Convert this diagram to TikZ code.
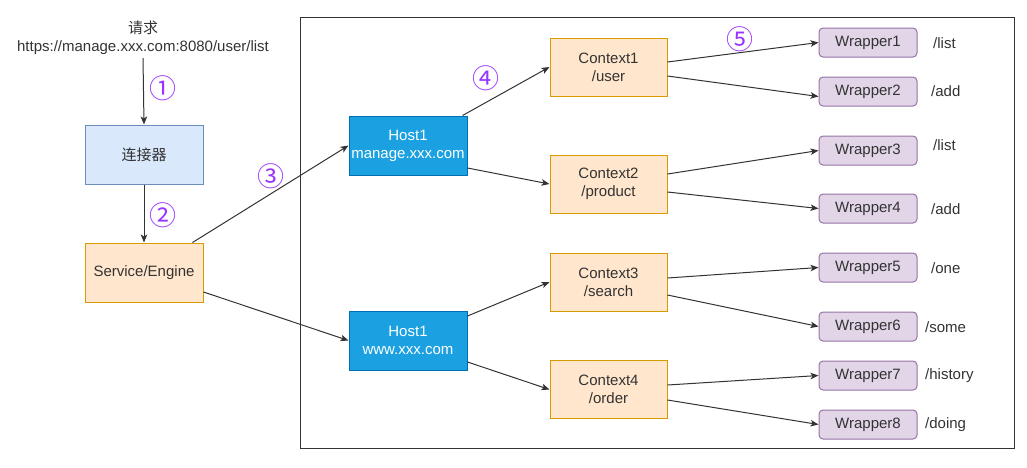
\documentclass[tikz,border=0pt]{standalone}
\usepackage{fontspec}
\setmainfont{Liberation Sans}
\newfontfamily\cjkfont{Noto Sans CJK SC}
\usepackage{xcolor}
\usepackage{tikz}
\usetikzlibrary{arrows.meta, positioning}

\definecolor{txtgray}{HTML}{333333}
\definecolor{stepviolet}{HTML}{9933FF}
\definecolor{connfill}{HTML}{DAE8FC}
\definecolor{conndraw}{HTML}{6C8EBF}
\definecolor{orfill}{HTML}{FFE6CC}
\definecolor{ordraw}{HTML}{D79B00}
\definecolor{hostfill}{HTML}{1BA1E2}
\definecolor{hostdraw}{HTML}{006EAF}
\definecolor{wrapfill}{HTML}{E1D5E7}
\definecolor{wrapdraw}{HTML}{9673A6}

\newcommand{\boxfont}{\fontsize{15}{18}\selectfont}

\tikzset{
  %% Plain flat box
  fbox/.style 2 args={
    rectangle, draw=#1, fill=#2,
    text centered, align=center, font=\boxfont, text=txtgray,
    minimum width=118pt, minimum height=59pt,
    inner sep=2pt, line width=1pt
  },
  %% Host box
  hbox/.style={
    fbox={hostdraw}{hostfill}, text=white
  },
  %% Wrapper box
  wbox/.style={
    rectangle, rounded corners=4pt,
    draw=wrapdraw, fill=wrapfill,
    text centered, font=\boxfont, text=txtgray,
    minimum width=98pt, minimum height=29pt,
    inner sep=2pt, line width=1pt
  },
  %% Circled step number
  stepnum/.style={
    font=\cjkfont\fontsize{27}{27}\selectfont, text=stepviolet,
    inner sep=0pt
  },
  %% Path label beside a wrapper
  plabel/.style={font=\boxfont, text=txtgray, anchor=west, inner sep=0pt},
  %% Arrow
  arr/.style={-{Stealth[length=8pt,width=6.5pt,inset=2pt]},
              draw=txtgray, line width=1pt},
}

\begin{document}
\begin{tikzpicture}[x=1pt, y=-1pt]
  \useasboundingbox (0,0) rectangle (1027,467);

  %% Request and the left column
  \node[align=center, font=\boxfont, text=txtgray, inner sep=1pt]
       (req) at (143,38) {{\cjkfont 请求}\\https://manage.xxx.com:8080/user/list};
  \node[fbox={conndraw}{connfill}] (conn) at (144,154.5) {\cjkfont 连接器};
  \node[fbox={ordraw}{orfill}] (engine) at (144,272.5) {Service/Engine};

  %% Container frame
  \draw[draw=txtgray, line width=1pt] (300,17) rectangle (1014,448);

  %% Hosts
  \node[hbox] (host1) at (408,145.5) {Host1\\manage.xxx.com};
  \node[hbox] (host2) at (408,340.5) {Host1\\www.xxx.com};

  %% Contexts
  \node[fbox={ordraw}{orfill}, minimum width=117pt, minimum height=58pt]
       (ctx1) at (608.5,67) {Context1\\/user};
  \node[fbox={ordraw}{orfill}, minimum width=117pt, minimum height=58pt]
       (ctx2) at (608.5,184) {Context2\\/product};
  \node[fbox={ordraw}{orfill}, minimum width=117pt, minimum height=58pt]
       (ctx3) at (608.5,282) {Context3\\/search};
  \node[fbox={ordraw}{orfill}, minimum width=117pt, minimum height=58pt]
       (ctx4) at (608.5,389.5) {Context4\\/order};

  %% Wrappers
  \node[wbox] (wrap1) at (868,42.5)  {Wrapper1};
  \node[wbox] (wrap2) at (868,91.5)  {Wrapper2};
  \node[wbox] (wrap3) at (868,150.5) {Wrapper3};
  \node[wbox] (wrap4) at (868,208.5) {Wrapper4};
  \node[wbox] (wrap5) at (868,267.5) {Wrapper5};
  \node[wbox] (wrap6) at (868,326.5) {Wrapper6};
  \node[wbox] (wrap7) at (868,375.5) {Wrapper7};
  \node[wbox] (wrap8) at (868,424.5) {Wrapper8};

  %% Paths
  \node[plabel] (p1) at (933,43)  {/list};
  \node[plabel] (p2) at (931,91)  {/add};
  \node[plabel] (p3) at (933,145) {/list};
  \node[plabel] (p4) at (931,209) {/add};
  \node[plabel] (p5) at (931,268) {/one};
  \node[plabel] (p6) at (925,327) {/some};
  \node[plabel] (p7) at (925,376) {/history};
  \node[plabel] (p8) at (925,425) {/doing};

  %% Step numbers
  \node[stepnum] (s1) at (163,88)  {①};
  \node[stepnum] (s2) at (163,215) {②};
  \node[stepnum] (s3) at (271,176) {③};
  \node[stepnum] (s4) at (486,78)  {④};
  \node[stepnum] (s5) at (740,39)  {⑤};

  %% Arrows
  \draw[arr] (req.south |- 0,58) -- (conn.north);
  \draw[arr] (conn)   -- (engine);
  \draw[arr] ([xshift=-11pt]engine.north east) -- (host1.west);
  \draw[arr] ([yshift=-19.5pt]engine.east)     -- (host2.west);
  \draw[arr] ([xshift=-5pt]host1.north east)   -- (ctx1.west);
  \draw[arr] ([yshift=-22.5pt]host1.east)      -- (ctx2.west);
  \draw[arr] ([yshift=24.5pt]host2.east)       -- (ctx3.west);
  \draw[arr] ([yshift=-21.5pt]host2.east)      -- (ctx4.west);
  \draw[arr] ([yshift=5pt]ctx1.east)    -- (wrap1.west);
  \draw[arr] ([yshift=-9pt]ctx1.east)   -- ([yshift=-5pt]wrap2.west);
  \draw[arr] ([yshift=10pt]ctx2.east)   -- (wrap3.west);
  \draw[arr] ([yshift=-8pt]ctx2.east)   -- (wrap4.west);
  \draw[arr] ([yshift=4pt]ctx3.east)    -- (wrap5.west);
  \draw[arr] ([yshift=-13pt]ctx3.east)  -- (wrap6.west);
  \draw[arr] ([yshift=4.5pt]ctx4.east)  -- (wrap7.west);
  \draw[arr] ([yshift=-10.5pt]ctx4.east) -- (wrap8.west);

\end{tikzpicture}
\end{document}
